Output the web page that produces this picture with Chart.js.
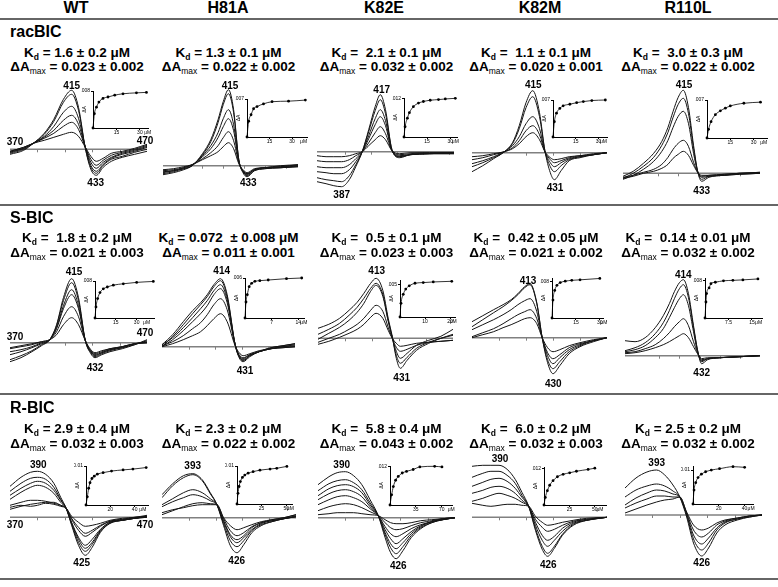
<!DOCTYPE html>
<html>
<head>
<meta charset="utf-8">
<script src="https://cdn.jsdelivr.net/npm/chart.js@4.4.1/dist/chart.umd.min.js"></script>
<style>
    body { margin: 0; width: 778px; height: 587px; position: relative; overflow: hidden; background: #fff;
           font-family: "Liberation Sans", Arial, sans-serif; color: #000; }
    canvas { position: absolute; }
    .lbl { position: absolute; transform: translate(-50%, -50%); white-space: pre; line-height: 1; font-weight: bold; }
    .head { font-size: 16px; }
    .row { font-size: 16px; transform: translate(0, -50%); }
    .kd { font-size: 13.5px; }
    .kd sub { font-size: 8.5px; vertical-align: -3px; line-height: 0; }
    .kd sub.m { font-weight: normal; }
    .pk { font-size: 10px; }
    .rule { position: absolute; left: 0; width: 778px; height: 2px; background: #666; }
</style>
</head>
<body>
<script>
// ========== DATA : labels ==========
const mutants = ['WT', 'H81A', 'K82E', 'K82M', 'R110L'];
const ligands = ['racBIC', 'S-BIC', 'R-BIC'];
const kdValues = [
    ['1.6 ± 0.2', '1.3 ± 0.1', ' 2.1 ± 0.1', ' 1.1 ± 0.1', ' 3.0 ± 0.3'],
    [' 1.8 ± 0.2', '0.072  ± 0.008', ' 0.5 ± 0.1', ' 0.42 ± 0.05', ' 0.14 ± 0.01'],
    ['2.9 ± 0.4', '2.3 ± 0.2', ' 5.8 ± 0.4', ' 6.0 ± 0.2', '2.5 ± 0.2']
];
const dAmaxValues = [
    ['0.023 ± 0.002', '0.022 ± 0.002', '0.032 ± 0.002', '0.020 ± 0.001', '0.022 ± 0.002'],
    ['0.021 ± 0.003', '0.011 ± 0.001', '0.023 ± 0.003', '0.021 ± 0.002', '0.032 ± 0.002'],
    ['0.032 ± 0.003', '0.022 ± 0.002', '0.043 ± 0.002', '0.032 ± 0.003', '0.032 ± 0.002']
];
// wavelength (nm) of the maximum and the minimum of each panel
const peakNm = [
    [['415', '433'], ['415', '433'], ['417', '387'], ['415', '431'], ['415', '433']],
    [['415', '432'], ['414', '431'], ['413', '431'], ['413', '430'], ['414', '432']],
    [['390', '425'], ['393', '426'], ['390', '426'], ['390', '426'], ['393', '426']]
];

// ========== DATA : difference spectra (relative dA units) ==========
// racBIC
const racWT_nm = [370, 380, 387, 395, 402, 409, 415, 420, 425, 429, 433, 438, 444, 452, 461, 470];
const racWT_dA = [
    [-5, -1, 6, 16, 30, 50, 59, 42, 1, -20, -26, -18, -12, -8, -5, -2],
    [-4, 0, 6, 15, 28, 47, 55, 39, 1, -18, -24, -16, -10, -7, -3, 0],
    [-3, 1, 6, 13, 23, 37, 43, 31, 2, -16, -22, -15, -9, -5, -2, 2],
    [-3, 1, 6, 12, 19, 29, 34, 25, 2, -13, -19, -13, -8, -4, -1, 3],
    [-2, 2, 6, 11, 16, 23, 27, 20, 2, -10, -16, -11, -6, -3, 0, 4],
    [-2, 2, 6, 9, 12, 15, 17, 13, 2, -7, -12, -9, -4, -2, 1, 5]
];
const racH81A_nm = [352, 362, 372, 380, 390, 398, 405, 410, 415, 420, 425, 429, 433, 440, 450, 465, 482];
const racH81A_dA = [
    [-9, -7, -4, 0, 12, 26, 46, 64, 76, 56, 6, -7, -11, -5, -3, -2, -1],
    [-8, -6, -3, 0, 11, 24, 43, 61, 72, 53, 6, -6, -10, -5, -3, -2, -1],
    [-7, -5, -3, 0, 10, 20, 33, 47, 56, 41, 5, -6, -9, -4, -2, -2, 0],
    [-6, -5, -2, 1, 9, 17, 28, 39, 47, 35, 4, -5, -8, -4, -2, -1, 0],
    [-5, -4, -2, 1, 7, 13, 20, 28, 34, 25, 3, -5, -8, -4, -2, -1, 1],
    [-4, -3, -1, 1, 6, 10, 14, 19, 23, 17, 2, -4, -7, -3, -2, 0, 1]
];
const racK82E_nm = [368, 375, 381, 387, 393, 398, 403, 408, 413, 417, 421, 426, 432, 440, 455, 474];
const racK82E_dA = [
    [-30, -32, -34, -35, -28, -15, 0, 22, 45, 57, 42, 2, -6, -3, -2, -2],
    [-26, -28, -29, -30, -24, -13, 0, 20, 41, 52, 38, 2, -5, -3, -2, -2],
    [-20, -21, -22, -22, -18, -10, 0, 16, 33, 42, 31, 1, -5, -3, -2, -1],
    [-15, -16, -16, -16, -13, -7, 0, 13, 27, 35, 26, 1, -4, -3, -2, -1],
    [-9, -10, -10, -10, -8, -4, 0, 9, 19, 25, 18, 1, -3, -2, -1, -1],
    [-4, -5, -5, -5, -4, -2, 0, 6, 12, 16, 12, 1, -2, -1, -1, -1]
];
const racK82M_nm = [370, 378, 386, 394, 400, 405, 410, 415, 420, 424, 428, 431, 436, 442, 450, 460, 470];
const racK82M_dA = [
    [-19, -13, -6, 1, 10, 27, 50, 62, 40, 2, -20, -27, -18, -8, -5, -2, 0],
    [-14, -10, -5, 1, 9, 24, 45, 56, 36, 2, -14, -19, -13, -7, -4, -2, 0],
    [-11, -8, -4, 1, 7, 16, 29, 36, 24, 1, -10, -14, -10, -6, -4, -2, 0],
    [-7, -5, -2, 1, 5, 12, 22, 27, 18, 1, -7, -10, -8, -5, -3, -2, 0],
    [-4, -3, -1, 1, 4, 9, 16, 20, 13, 1, -5, -7, -6, -4, -3, -1, 0]
];
const racR110L_nm = [356, 366, 376, 386, 394, 400, 405, 410, 415, 420, 425, 429, 433, 440, 455, 470, 490];
const racR110L_dA = [
    [-3, 2, 10, 20, 32, 46, 62, 76, 83, 66, 28, 2, -8, -4, -2, -1, 0],
    [-5, 0, 7, 16, 28, 41, 56, 69, 75, 60, 25, 2, -6, -3, -2, -1, 0],
    [-6, -2, 4, 12, 22, 33, 46, 57, 62, 50, 20, 2, -4, -3, -2, 0, 0],
    [-4, -2, 1, 4, 9, 16, 24, 30, 33, 27, 11, 1, -3, -2, -1, 0, 1],
    [-5, -3, 0, 2, 5, 9, 15, 19, 22, 18, 8, 1, -2, -2, -1, 0, 1]
];
// S-BIC
const sWT_nm = [370, 378, 386, 393, 399, 404, 409, 415, 420, 425, 429, 432, 437, 443, 452, 461, 470];
const sWT_dA = [
    [-19, -15, -9, -3, 3, 18, 45, 64, 45, 2, -11, -15, -12, -9, -6, -2, 3],
    [-17, -13, -8, -2, 3, 17, 42, 60, 42, 2, -10, -14, -11, -8, -5, -2, 2],
    [-12, -9, -5, -1, 3, 15, 37, 53, 37, 2, -9, -13, -10, -7, -5, -1, 1],
    [-9, -7, -4, 0, 3, 14, 34, 48, 34, 2, -9, -12, -10, -7, -4, -1, 0],
    [-6, -4, -2, 1, 3, 11, 26, 36, 26, 2, -8, -11, -9, -6, -4, -1, 0],
    [-5, -3, -1, 1, 3, 8, 18, 25, 18, 2, -7, -10, -8, -6, -4, -1, 0]
];
const sH81A_nm = [370, 378, 386, 393, 399, 404, 409, 414, 419, 425, 428, 431, 436, 443, 452, 461, 470];
const sH81A_dA = [
    [2, 12, 25, 36, 44, 52, 62, 68, 52, 2, -11, -15, -10, -5, -1, 1, 3],
    [0, 10, 22, 33, 42, 50, 60, 66, 50, 2, -10, -14, -9, -5, -1, 1, 3],
    [2, 9, 19, 29, 38, 46, 56, 62, 47, 2, -10, -13, -9, -5, -2, 0, 2],
    [0, 7, 16, 25, 33, 41, 52, 58, 44, 2, -9, -12, -8, -5, -2, 0, 1],
    [1, 5, 11, 18, 24, 32, 42, 48, 37, 2, -8, -11, -8, -5, -2, -1, 0],
    [0, 3, 7, 11, 15, 21, 28, 33, 25, 1, -6, -9, -7, -4, -2, -1, 0]
];
const sK82E_nm = [370, 378, 386, 393, 399, 404, 409, 413, 418, 422, 425, 428, 431, 436, 443, 452, 461, 470];
const sK82E_dA = [
    [10, 14, 20, 28, 36, 45, 55, 60, 48, 20, 2, -20, -30, -22, -12, -5, 0, 4],
    [4, 9, 15, 23, 31, 40, 50, 55, 44, 18, 1, -17, -25, -19, -10, -4, 0, 3],
    [-1, 5, 11, 18, 26, 35, 47, 53, 42, 17, 1, -13, -20, -15, -7, -2, 2, 9],
    [-4, 0, 4, 9, 14, 20, 28, 33, 27, 11, 0, -9, -13, -11, -7, -4, -3, -2],
    [-6, -3, 1, 5, 9, 14, 21, 25, 20, 8, 0, -5, -8, -7, -5, -4, -3, -2]
];
const sK82M_nm = [370, 378, 386, 393, 399, 404, 409, 413, 418, 422, 426, 430, 435, 442, 450, 460, 470];
const sK82M_dA = [
    [16, 22, 28, 33, 38, 44, 51, 54, 35, 0, -25, -36, -28, -16, -9, -4, 0],
    [11, 18, 25, 31, 37, 43, 50, 53, 34, 0, -22, -31, -24, -14, -8, -3, 0],
    [8, 13, 18, 23, 28, 33, 37, 39, 26, 0, -18, -26, -20, -12, -7, -3, 0],
    [1, 5, 9, 14, 19, 23, 26, 28, 19, 0, -15, -21, -17, -10, -6, -3, 0],
    [0, 3, 6, 10, 13, 16, 19, 20, 14, 0, -10, -14, -12, -8, -5, -2, 0]
];
const sR110L_nm = [356, 366, 376, 386, 394, 400, 405, 410, 414, 419, 424, 428, 432, 438, 450, 470, 490];
const sR110L_dA = [
    [15, 14, 18, 28, 40, 52, 64, 73, 76, 62, 30, 6, -8, -4, -2, -1, 0],
    [5, 8, 13, 22, 33, 45, 57, 67, 71, 58, 28, 5, -6, -3, -2, -1, 0],
    [4, 6, 10, 18, 27, 38, 48, 57, 61, 50, 24, 4, -5, -3, -2, -1, 0],
    [3, 4, 7, 11, 17, 23, 29, 34, 37, 30, 14, 3, -4, -3, -2, -1, 0],
    [2, 3, 5, 8, 11, 14, 17, 20, 22, 18, 9, 2, -3, -2, -2, -1, 0]
];
// R-BIC
const rWT_nm = [370, 378, 385, 390, 396, 402, 407, 411, 415, 420, 425, 430, 436, 443, 452, 461, 470];
const rWT_dA = [
    [31, 40, 45, 46, 43, 34, 20, 9, -8, -28, -38, -30, -15, -6, -3, -1, 1],
    [26, 34, 39, 40, 38, 30, 18, 9, -7, -25, -34, -27, -14, -6, -3, -1, 1],
    [22, 29, 34, 36, 34, 27, 17, 9, -6, -22, -31, -25, -13, -5, -3, -1, 1],
    [18, 25, 30, 32, 30, 24, 15, 9, -5, -20, -28, -22, -12, -5, -3, -1, 0],
    [12, 15, 17, 17, 16, 14, 12, 9, -2, -13, -19, -15, -9, -4, -2, -1, 0],
    [8, 11, 13, 14, 15, 15, 12, 9, -1, -10, -16, -13, -8, -4, -2, 0, 1],
    [10, 12, 11, 12, 14, 13, 11, 9, 1, -5, -9, -8, -6, -3, -1, 0, 2]
];
const rH81A_nm = [370, 378, 386, 393, 400, 406, 411, 416, 421, 426, 431, 437, 444, 452, 461, 470];
const rH81A_dA = [
    [23, 34, 42, 44, 38, 25, 13, -8, -28, -35, -27, -15, -8, -4, -1, 1],
    [20, 32, 40, 43, 37, 24, 13, -6, -23, -29, -23, -13, -7, -4, -1, 1],
    [13, 19, 25, 28, 25, 19, 13, -4, -19, -25, -20, -12, -6, -3, -1, 1],
    [11, 16, 20, 23, 21, 17, 13, -3, -17, -22, -18, -10, -5, -3, -1, 2],
    [3, 7, 11, 14, 15, 14, 13, -1, -13, -18, -15, -9, -5, -2, 0, 3],
    [5, 8, 10, 12, 13, 13, 13, 0, -8, -12, -10, -7, -4, -2, 0, 3]
];
const rK82E_nm = [370, 378, 384, 390, 396, 402, 408, 414, 419, 423, 427, 432, 438, 445, 453, 461, 470];
const rK82E_dA = [
    [33, 41, 45, 46, 42, 33, 18, 2, -20, -35, -41, -33, -20, -11, -5, -2, 0],
    [27, 34, 37, 38, 35, 28, 15, 2, -17, -30, -36, -29, -18, -10, -5, -2, 0],
    [22, 29, 32, 33, 31, 25, 13, 2, -15, -26, -31, -25, -16, -9, -4, -2, 0],
    [18, 24, 27, 28, 26, 21, 11, 2, -12, -21, -26, -21, -14, -8, -4, -2, 0],
    [13, 18, 21, 22, 20, 16, 9, 2, -9, -16, -19, -16, -11, -7, -4, -1, 0],
    [7, 11, 13, 14, 13, 10, 6, 2, -5, -10, -12, -11, -8, -5, -3, -1, 0],
    [3, 4, 5, 5, 5, 4, 3, 2, -2, -5, -6, -6, -5, -3, -2, -1, 0]
];
const rK82M_nm = [370, 378, 384, 390, 396, 402, 407, 412, 417, 422, 426, 431, 437, 445, 455, 470];
const rK82M_dA = [
    [51, 52, 52, 52, 48, 38, 25, 11, -13, -32, -39, -31, -18, -8, -3, 0],
    [40, 44, 46, 46, 42, 34, 22, 11, -11, -29, -36, -29, -17, -7, -3, 0],
    [31, 35, 38, 39, 36, 29, 20, 11, -8, -23, -29, -23, -14, -6, -3, 0],
    [24, 27, 30, 31, 29, 24, 17, 11, -5, -18, -23, -19, -11, -5, -2, 0],
    [16, 19, 22, 24, 22, 19, 15, 11, -2, -10, -14, -12, -8, -4, -2, 0],
    [14, 12, 11, 12, 13, 13, 12, 11, 1, -5, -8, -7, -5, -3, -1, 0]
];
const rR110L_nm = [370, 378, 386, 393, 399, 405, 410, 415, 420, 426, 431, 437, 443, 452, 461, 470];
const rR110L_dA = [
    [27, 37, 43, 45, 40, 30, 18, -2, -28, -41, -33, -18, -10, -5, -2, 0],
    [18, 25, 29, 31, 29, 24, 18, 0, -24, -35, -28, -15, -8, -4, -2, 0],
    [10, 17, 22, 25, 24, 21, 18, 1, -20, -29, -23, -13, -7, -4, -1, 0],
    [7, 12, 16, 19, 19, 18, 18, 2, -15, -22, -18, -10, -6, -3, -1, 0],
    [2, 6, 10, 13, 15, 16, 18, 3, -10, -15, -13, -8, -5, -3, -1, 0]
];

// ========== DATA : titrations (ligand uM, dA) ==========
const racWT_conc = [0, 0.9, 2.2, 3.8, 6.4, 9.6, 13.9, 19.2, 27.8, 34.2];
const racWT_titr = [0, 0.0031, 0.0045, 0.0056, 0.0064, 0.0067, 0.0071, 0.0074, 0.0076, 0.0077];
const racH81A_conc = [0, 1.1, 2.7, 4.4, 6.7, 11, 16.7, 27.7, 38.9];
const racH81A_titr = [0, 0.0029, 0.0041, 0.0052, 0.0056, 0.0061, 0.0065, 0.0066, 0.0068];
const racK82E_conc = [0, 0.7, 2.2, 3.5, 6.1, 9.4, 12.6, 17, 22.4, 26.8, 33.3];
const racK82E_titr = [0, 0.0032, 0.0059, 0.0076, 0.0095, 0.0106, 0.0111, 0.0115, 0.0117, 0.0119, 0.0121];
const racK82M_conc = [0, 0.9, 2.3, 4.5, 6.7, 11.1, 15.6, 20, 25.6, 34.5];
const racK82M_titr = [0, 0.0029, 0.0045, 0.0054, 0.0059, 0.0062, 0.0065, 0.0067, 0.0069, 0.007];
const racR110L_conc = [0, 1, 2.6, 5.4, 8.6, 11.8, 15, 23.7, 34.4];
const racR110L_titr = [0, 0.0016, 0.003, 0.0043, 0.005, 0.0055, 0.0059, 0.0064, 0.0066];

const sWT_conc = [0, 0.7, 1.9, 3.6, 6, 8.9, 13.2, 20.4, 30, 42];
const sWT_titr = [0, 0.0024, 0.0042, 0.0055, 0.0063, 0.0067, 0.0071, 0.0074, 0.0077, 0.0079];
const sH81A_conc = [0, 0.26, 0.6, 1.1, 1.75, 2.6, 3.9, 6.1, 10.9, 14.9];
const sH81A_titr = [0, 0.0024, 0.0035, 0.0047, 0.0052, 0.0055, 0.0056, 0.0057, 0.0059, 0.006];
const sK82E_conc = [0, 0.4, 1.3, 2.3, 3.7, 6, 9.3, 13.3, 20.7];
const sK82E_titr = [0, 0.0021, 0.0035, 0.0043, 0.0048, 0.0052, 0.0053, 0.0054, 0.0055];
const sK82M_conc = [0, 0.6, 1.7, 3.1, 5.2, 8.3, 12.4, 17.6, 30];
const sK82M_titr = [0, 0.0039, 0.006, 0.0071, 0.0077, 0.008, 0.0082, 0.0083, 0.0086];
const sR110L_conc = [0, 0.3, 0.5, 1.3, 1.9, 3.3, 5.9, 8.9, 12.1, 16.9];
const sR110L_titr = [0, 0.0034, 0.0052, 0.0064, 0.0073, 0.0076, 0.0079, 0.008, 0.0081, 0.0083];

const rWT_conc = [0, 1.1, 2.2, 3.3, 4.9, 6.8, 9.3, 14.1, 21, 30.5, 38.6, 49.5];
const rWT_titr = [0, 0.0021, 0.0043, 0.0057, 0.0068, 0.0074, 0.0079, 0.0083, 0.0087, 0.009, 0.0092, 0.0096];
const rH81A_conc = [0, 1, 2.1, 3.4, 5.5, 7.9, 11.3, 16.4, 23.3, 33.6, 40.4, 50.7];
const rH81A_titr = [0, 0.0028, 0.0046, 0.0059, 0.007, 0.0076, 0.0081, 0.0085, 0.0089, 0.0092, 0.0094, 0.0099];
const rK82E_conc = [0, 2.2, 4.5, 7.6, 11.2, 16.6, 22.4, 31.4, 40.4, 60.5, 70.4];
const rK82E_titr = [0, 0.0032, 0.0058, 0.0078, 0.009, 0.0101, 0.0106, 0.0112, 0.012, 0.0122, 0.012];
const rK82M_conc = [0, 1.3, 3.3, 5.6, 8.9, 13.2, 18.8, 25.3, 31.9, 43.4, 50];
const rK82M_titr = [0, 0.0025, 0.0047, 0.0065, 0.008, 0.0093, 0.0101, 0.0106, 0.0111, 0.0117, 0.0121];
const rR110L_conc = [0, 0.8, 2.1, 3.9, 6.5, 9.8, 14.2, 20.6, 31, 40];
const rR110L_titr = [0, 0.0041, 0.0063, 0.0078, 0.0088, 0.0095, 0.01, 0.0104, 0.011, 0.0108];

// inset axis ticks: [x tick values], y tick value
const insetXTicks = [
    [[15, 30], [15, 30], [15, 30], [15, 30], [15, 30]],
    [[15, 30], [7, 14], [10, 20], [15, 30], [7.5, 15]],
    [[20, 40], [25, 50], [35, 70], [25, 50], [20, 40]]
];
const insetYTick = [
    [0.008, 0.007, 0.012, 0.007, 0.007],
    [0.008, 0.006, 0.005, 0.008, 0.008],
    [0.01, 0.01, 0.012, 0.012, 0.01]
];

const spectra = [
    [[racWT_nm, racWT_dA], [racH81A_nm, racH81A_dA], [racK82E_nm, racK82E_dA], [racK82M_nm, racK82M_dA], [racR110L_nm, racR110L_dA]],
    [[sWT_nm, sWT_dA], [sH81A_nm, sH81A_dA], [sK82E_nm, sK82E_dA], [sK82M_nm, sK82M_dA], [sR110L_nm, sR110L_dA]],
    [[rWT_nm, rWT_dA], [rH81A_nm, rH81A_dA], [rK82E_nm, rK82E_dA], [rK82M_nm, rK82M_dA], [rR110L_nm, rR110L_dA]]
];
const titrations = [
    [[racWT_conc, racWT_titr], [racH81A_conc, racH81A_titr], [racK82E_conc, racK82E_titr], [racK82M_conc, racK82M_titr], [racR110L_conc, racR110L_titr]],
    [[sWT_conc, sWT_titr], [sH81A_conc, sH81A_titr], [sK82E_conc, sK82E_titr], [sK82M_conc, sK82M_titr], [sR110L_conc, sR110L_titr]],
    [[rWT_conc, rWT_titr], [rH81A_conc, rH81A_titr], [rK82E_conc, rK82E_titr], [rK82M_conc, rK82M_titr], [rR110L_conc, rR110L_titr]]
];

// ========== LAYOUT ==========
const colText = [77, 228.5, 386.5, 536, 688];
const colHead = [76, 228, 384, 540, 688];
const rowKd = [53.3, 238.3, 429.3];
const rowDA = [66.7, 253.3, 444];
const rowName = [31.5, 217.5, 408];
const rules = [18, 204, 393, 578];

// spectra boxes: [left px, right px, zero line px, nm min, nm max]
const specBox = [
    [[10, 147, 149.3, 370, 470], [163.3, 298.3, 165.7, 352, 482], [316.7, 453.3, 151.7, 368, 474], [471.7, 606.7, 152.7, 370, 470], [623.3, 760, 173.3, 356, 490]],
    [[10, 146.7, 342.7, 370, 470], [162.3, 295, 346.7, 370, 470], [318.3, 453.3, 338.3, 370, 470], [471.7, 606.7, 337.7, 370, 470], [625, 760, 355.7, 356, 490]],
    [[10, 146.7, 517.3, 370, 470], [162.3, 296.7, 517.7, 370, 470], [318.3, 455, 517.7, 370, 470], [471.7, 606.7, 517.3, 370, 470], [625, 761.7, 515, 370, 470]]
];
// peak label centres: [[maxX, maxY], [minX, minY]]
const peakPos = [
    [[[71.7, 85.5], [95.7, 183]], [[230, 85.7], [248.3, 182.7]], [[381.7, 90], [341.7, 195]], [[533.3, 85], [555, 188.3]], [[684, 85], [701.7, 190.7]]],
    [[[74, 272.3], [95, 367.7]], [[221.7, 271], [245, 370.7]], [[376.7, 271], [401.7, 377.7]], [[528, 280.5], [553.3, 384.3]], [[683.3, 275], [701.7, 373.3]]],
    [[[38.3, 465], [81.7, 562.7]], [[192.7, 466], [236.7, 560.7]], [[341.7, 465], [398.3, 566]], [[500, 459], [548.3, 565]], [[656.7, 463.3], [701.7, 563.3]]]
];
// inset boxes: [axis x, y of y-tick, axis y, right end, x max, y max, where "μM" sits]
const insetBox = [
    [[93.3, 90.7, 127.7, 148.3, 35.2, 0.008, 35], [246.7, 99, 137.3, 306.7, 40, 0.007, 37.7], [404, 99, 136.7, 456.7, 34.4, 0.0122, 33.3], [553.3, 100, 137.3, 606.7, 35.6, 0.007, 33.3], [706.7, 100, 138.3, 766.7, 38.6, 0.007, 36.5]],
    [[95, 281, 317.7, 154, 42.5, 0.008, 37.2], [245, 278.3, 317.7, 304, 15.5, 0.006, 15.45], [400, 284.3, 316.7, 455, 22, 0.0057, 21.3], [551.7, 281, 317.7, 603.3, 32, 0.0087, 32.5], [705, 280, 317.7, 761.7, 18.2, 0.0085, 17.1]],
    [[86, 466, 505, 148.3, 51, 0.01, 46.8], [237.3, 466, 504, 291.7, 55.9, 0.01, 54.2], [390, 467.3, 505, 452, 84, 0.0123, 83], [544.3, 468.3, 505, 606, 61, 0.0125, 55], [693.3, 470, 504, 753.3, 46.5, 0.0112, 45]]
];

// ========== CHART.JS ==========
Chart.defaults.font.family = '"Liberation Sans", Arial, sans-serif';
Chart.defaults.color = '#000';

function addText(html, x, y, cls) {
    const d = document.createElement('div');
    d.className = 'lbl ' + cls;
    d.innerHTML = html;
    d.style.left = x + 'px';
    d.style.top = y + 'px';
    document.body.appendChild(d);
}

function makeCanvas(left, top, w, h) {
    const c = document.createElement('canvas');
    c.width = w;
    c.height = h;
    c.style.left = left + 'px';
    c.style.top = top + 'px';
    c.style.width = w + 'px';
    c.style.height = h + 'px';
    document.body.appendChild(c);
    return c;
}

// grey zero line with small ticks every 20 nm
const zeroLine = {
    id: 'zeroLine',
    beforeDatasetsDraw(chart) {
        const { ctx, chartArea, scales } = chart;
        const y = scales.y.getPixelForValue(0);
        ctx.save();
        ctx.strokeStyle = '#808080';
        ctx.lineWidth = 1.5;
        ctx.beginPath();
        ctx.moveTo(chartArea.left, y);
        ctx.lineTo(chartArea.right, y);
        ctx.stroke();
        ctx.lineWidth = 1;
        ctx.beginPath();
        for (let v = 390; v < scales.x.max; v += 20) {
            const x = Math.round(scales.x.getPixelForValue(v)) + 0.5;
            ctx.moveTo(x, y);
            ctx.lineTo(x, y + 3);
        }
        ctx.stroke();
        ctx.restore();
    }
};

const baseOptions = {
    responsive: false,
    animation: false,
    devicePixelRatio: 1,
    events: [],
    layout: { padding: 0 },
    plugins: { legend: { display: false }, tooltip: { enabled: false } }
};

function drawSpectra(box, nm, curves) {
    const [x0, x1, yz, nmMin, nmMax] = box;
    const left = Math.round(x0), w = Math.round(x1 - x0);
    const top = Math.round(yz) - 100, h = 160;
    const yMax = yz - top, yMin = yMax - h;
    new Chart(makeCanvas(left, top, w, h), {
        type: 'line',
        data: {
            datasets: curves.map(c => ({
                data: nm.map((x, i) => ({ x: x, y: c[i] })),
                borderColor: '#141414',
                borderWidth: 1,
                pointRadius: 0,
                cubicInterpolationMode: 'monotone',
                clip: false
            }))
        },
        options: {
            ...baseOptions,
            scales: {
                x: { type: 'linear', min: nmMin, max: nmMax, display: false },
                y: { min: yMin, max: yMax, display: false }
            }
        },
        plugins: [zeroLine]
    });
}

function drawInset(box, conc, titr, xTicks, yTick) {
    const [ax, yT, yB, xR, xMax, yMaxV, unitAt] = box;
    const padL = 12, axW = 12, padT = 5, axH = 11, padR = 14;
    const areaTop = yB - (yB - yT) * yMaxV / yTick;
    const left = Math.round(ax) - padL - axW;
    const top = Math.round(areaTop) - padT;
    const w = Math.round(xR) - left + padR;
    const h = Math.round(yB) + axH - top;
    const tickFont = { size: 5 };
    new Chart(makeCanvas(left, top, w, h), {
        type: 'scatter',
        data: {
            datasets: [{
                data: conc.map((x, i) => ({ x: x, y: titr[i] })),
                showLine: true,
                borderColor: '#000',
                borderWidth: 0.8,
                pointRadius: 1.4,
                pointBackgroundColor: '#000',
                pointBorderWidth: 0,
                cubicInterpolationMode: 'monotone',
                clip: false
            }]
        },
        options: {
            ...baseOptions,
            layout: { padding: { left: padL, top: padT, right: padR, bottom: 0 } },
            scales: {
                x: {
                    type: 'linear', min: 0, max: xMax,
                    afterFit: s => { s.height = axH; },
                    afterBuildTicks: s => {
                        s.ticks = xTicks.map(v => ({ value: v })).concat([{ value: unitAt, unit: true }]);
                    },
                    ticks: {
                        autoSkip: false, maxRotation: 0, padding: 0, font: tickFont,
                        callback: (v, i, t) => (t[i].unit ? 'μM' : String(v))
                    },
                    grid: {
                        drawOnChartArea: false, tickLength: 2, color: '#000',
                        tickColor: c => (c.tick && c.tick.unit ? 'rgba(0,0,0,0)' : '#000')
                    },
                    border: { color: '#000', width: 1 }
                },
                y: {
                    min: 0, max: yMaxV,
                    afterFit: s => { s.width = axW; },
                    afterBuildTicks: s => { s.ticks = [{ value: yTick }]; },
                    ticks: { padding: 1, font: tickFont, callback: v => String(v) },
                    grid: { drawOnChartArea: false, tickLength: 2, color: '#000' },
                    border: { color: '#000', width: 1 },
                    title: { display: true, text: 'ΔA', font: tickFont, padding: { top: 1, bottom: 0 } }
                }
            }
        }
    });
}

// ========== BUILD FIGURE ==========
rules.forEach(y => {
    const r = document.createElement('div');
    r.className = 'rule';
    r.style.top = y + 'px';
    document.body.appendChild(r);
});

mutants.forEach((m, c) => addText(m, colHead[c], 7.5, 'head'));

ligands.forEach((lig, r) => {
    addText(lig, 10, rowName[r], 'row');
    mutants.forEach((m, c) => {
        addText('K<sub>d</sub> = ' + kdValues[r][c] + ' μM', colText[c], rowKd[r], 'kd');
        addText('ΔA<sub class="m">max</sub> = ' + dAmaxValues[r][c], colText[c], rowDA[r], 'kd');

        const [nm, curves] = spectra[r][c];
        drawSpectra(specBox[r][c], nm, curves);

        const [conc, titr] = titrations[r][c];
        drawInset(insetBox[r][c], conc, titr, insetXTicks[r][c], insetYTick[r][c]);

        addText(peakNm[r][c][0], peakPos[r][c][0][0], peakPos[r][c][0][1], 'pk');
        addText(peakNm[r][c][1], peakPos[r][c][1][0], peakPos[r][c][1][1], 'pk');
    });
});

// range marks of the wild-type panels
[[141.7, 140.7], [336.7, 333.3], [525, 525]].forEach(([yl, yr]) => {
    addText('370', 15, yl, 'pk');
    addText('470', 145, yr, 'pk');
});
</script>
</body>
</html>
